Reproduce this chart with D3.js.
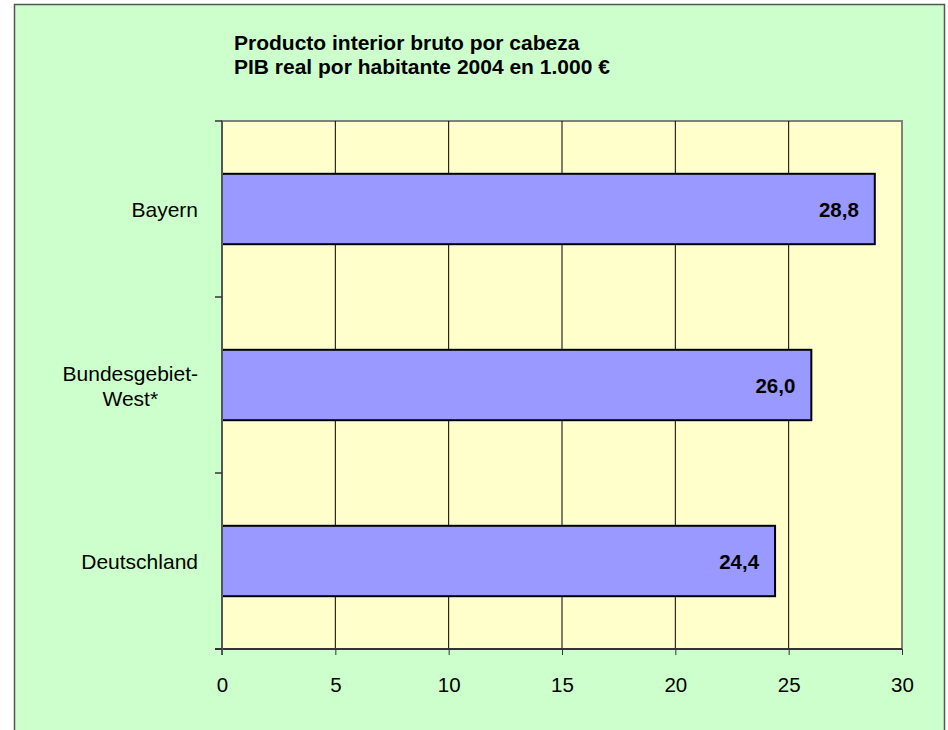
<!DOCTYPE html>
<html><head><meta charset="utf-8">
<script src="https://cdn.jsdelivr.net/npm/d3@7"></script>
<style>body{margin:0;background:#fff}svg{display:block}text{font-family:Arial,"Liberation Sans",sans-serif}</style>
</head><body>
<script>
const categories = [["Bayern"], ["Bundesgebiet-", "West*"], ["Deutschland"]];
const values = [28.8, 26.0, 24.4];
const valueLabels = ["28,8", "26,0", "24,4"];
const xTicks = [0, 5, 10, 15, 20, 25, 30];
const titleLines = ["Producto interior bruto por cabeza", "PIB real por habitante 2004 en 1.000 €"];

const W = 948, H = 730;
const FS = 21;
const svg = d3.select("body").append("svg").attr("width", W).attr("height", H);
svg.append("rect").attr("x", 14.5).attr("y", 4.5).attr("width", 930).attr("height", 740)
  .attr("fill", "#CCFFCC").attr("stroke", "#555").attr("stroke-width", 1.5);

const L = 222, R = 902, T = 121, B = 649;
const x = d3.scaleLinear().domain([0, 30]).range([L, R]);
const y = d3.scaleBand().domain(d3.range(categories.length)).range([T, B]).paddingInner(0.6).paddingOuter(0.3);
const yb = d3.scaleBand().domain(d3.range(categories.length)).range([T, B]);

svg.append("rect").attr("x", L).attr("y", T).attr("width", R - L).attr("height", B - T)
  .attr("fill", "#FFFFCC").attr("stroke", "#808080").attr("stroke-width", 2);

// gridlines
svg.append("g").selectAll("line").data(xTicks.slice(1, -1)).join("line")
  .attr("x1", d => x(d)).attr("x2", d => x(d)).attr("y1", T).attr("y2", B)
  .attr("stroke", "#000").attr("stroke-width", 1);

// bars
svg.append("g").selectAll("rect").data(values).join("rect")
  .attr("x", x(0)).attr("y", (d, i) => y(i)).attr("width", d => x(d) - x(0)).attr("height", y.bandwidth())
  .attr("fill", "#9999FF").attr("stroke", "#000").attr("stroke-width", 2);

svg.append("g").selectAll("text").data(values).join("text")
  .attr("x", d => x(d) - 16).attr("y", (d, i) => y(i) + y.bandwidth() / 2 + 8)
  .attr("text-anchor", "end").attr("font-size", 20.5).attr("font-weight", "bold")
  .text((d, i) => valueLabels[i]);

// x axis
const xAxis = svg.append("g").attr("transform", `translate(0,${B})`)
  .call(d3.axisBottom(x).tickValues(xTicks).tickSize(6).tickSizeOuter(0));
xAxis.select(".domain").attr("stroke", "#333").attr("stroke-width", 2).attr("d", `M${L - 7},0H${R}`);
xAxis.selectAll(".tick line").attr("stroke", "#333");
xAxis.selectAll(".tick text").attr("font-size", 20.5).attr("fill", "#000")
  .attr("font-family", "Arial, 'Liberation Sans', sans-serif").attr("dy", null).attr("y", 43);

// y axis
const yAxisG = svg.append("g").attr("transform", `translate(${L},0)`);
yAxisG.append("line").attr("x1", 0).attr("x2", 0).attr("y1", T).attr("y2", B + 6).attr("stroke", "#555").attr("stroke-width", 2);
yAxisG.selectAll("line.tk").data(d3.range(categories.length + 1)).join("line").attr("class", "tk")
  .attr("x1", -7).attr("x2", 0)
  .attr("y1", i => i < categories.length ? yb(i) : B).attr("y2", i => i < categories.length ? yb(i) : B)
  .attr("stroke", "#333").attr("stroke-width", 1.5);

const cl = svg.append("g").selectAll("text").data(categories).join("text")
  .attr("font-size", FS).attr("text-anchor", "middle")
  .attr("transform", (d, i) => `translate(0,${y(i) + y.bandwidth() / 2})`);
cl.each(function(d) {
  const t = d3.select(this);
  const n = d.length;
  d.forEach((s, k) => {
    t.append("tspan").attr("x", 0).attr("y", (k - (n - 1) / 2) * 25 + 8).text(s);
  });
});
cl.each(function() {
  const t = d3.select(this);
  const bb = this.getBBox();
  const cx = 198 - bb.width / 2;
  t.selectAll("tspan").attr("x", cx);
});

// title
svg.append("g").selectAll("text").data(titleLines).join("text")
  .attr("x", 234).attr("y", (d, i) => 50 + i * 24)
  .attr("font-size", 21).attr("font-weight", "bold").text(d => d);
</script>
</body></html>
